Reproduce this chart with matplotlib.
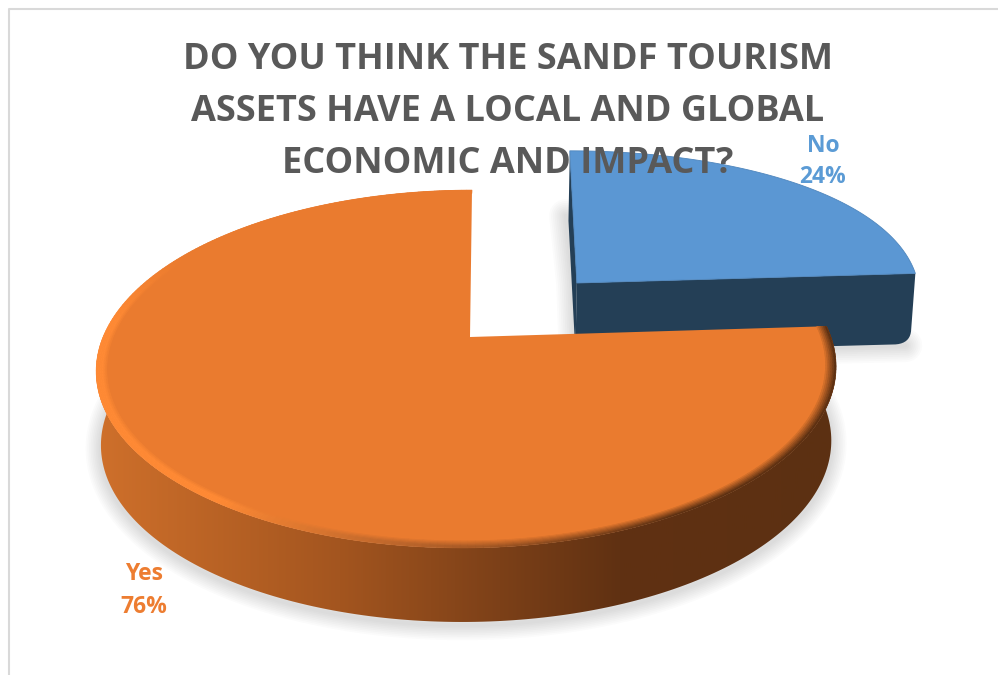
import numpy as np
import matplotlib
matplotlib.use('Agg')
import matplotlib.pyplot as plt
from matplotlib.colors import to_rgb
from matplotlib.patches import Polygon

title_lines = ['DO YOU THINK THE SANDF TOURISM',
               'ASSETS HAVE A LOCAL AND GLOBAL',
               'ECONOMIC AND IMPACT?']
categories = ['No', 'Yes']
shares = [24, 76]

ORANGE = '#ea7b2f'
BLUE_TOP = '#5b97d3'
BLUE_SIDE = '#243f56'
GREY = '#595959'

# perspective of the pie disc, in pixels
CX, CY = 467, 337
RX = 364
PERSP = 0.1788
SLOPE = -113
DEPTH = 74
DEPTH_SCALE = 0.987
SHEAR = 5

# the pulled out slice has its own horizontal scale
EXPLODE_X, EXPLODE_Y = 0.322, 0.33
BLUE_RX = 349
BLUE_PERSP_X = 0.07
BLUE_DEPTH = 70


def project(theta, r=1.0):
    # theta is measured clockwise from twelve o'clock
    x = r * np.sin(theta)
    y = r * np.cos(theta)
    w = 1 + PERSP * y
    return CX + RX * x / w + SHEAR * y, (SLOPE * y + CY) / w


def project_blue(theta, r=1.0):
    x = r * np.sin(theta) + EXPLODE_X
    y = r * np.cos(theta) + EXPLODE_Y
    return CX + BLUE_RX * x / (1 + BLUE_PERSP_X * y), (SLOPE * y + CY) / (1 + PERSP * y)


def drop(px, py, depth=DEPTH):
    return CX + (np.asarray(px) - CX) * DEPTH_SCALE, np.asarray(py) + depth


def lerp_color(x, xs, colors):
    rgb = np.array([to_rgb(c) for c in colors])
    return tuple(np.interp(x, xs, rgb[:, i]) for i in range(3))


def rim_color(deg):
    return lerp_color(deg, [86, 150, 185, 215, 275, 300, 360],
                      ['#5c3012', '#5c3012', '#b5622a', '#ff8a35', '#ff8a35', '#ea7b2f', '#ea7b2f'])


def soft_shadow(ax, px, py, width=22, steps=9):
    for i in range(steps):
        ax.plot(px, py, color='#808080', lw=width * (1 - i / steps), alpha=0.03,
                solid_capstyle='round', solid_joinstyle='round', zorder=1)


def rounded(p0, corner, p1, n=10):
    t = np.linspace(0, 1, n)[:, None]
    p0, corner, p1 = map(np.asarray, (p0, corner, p1))
    return (1 - t) ** 2 * p0 + 2 * t * (1 - t) * corner + t ** 2 * p1


fig = plt.figure(figsize=(9.98, 6.75), dpi=100)
ax = fig.add_axes([0, 0, 1, 1])
ax.axis('off')

# chart frame, only the left and top edges are in view
ax.plot([9, 9, 998], [675, 9, 9], color='#d9d9d9', lw=1.5, zorder=0)

blue_span = 2 * np.pi * shares[0] / sum(shares)

# exploded "No" slice
th = np.linspace(0, blue_span, 120)
bx, by = project_blue(th)
ax_, ay_ = project_blue(0.0, r=0.0)
bbx, bby = drop(bx, by, BLUE_DEPTH)
abx, aby = drop(ax_, ay_, BLUE_DEPTH)

soft_shadow(ax, [bx[0] - 4, ax_ - 4, abx, bbx[-1] - 4], [by[0] + 65, ay_, aby, bby[-1] + 2], width=24)
ax.fill([bx[0], ax_, abx, bbx[0]], [by[0], ay_, aby, bby[0]], color=BLUE_SIDE, lw=0, zorder=2)

corner = rounded((bbx[-1] + 1.5, bby[-1] - 12), (bbx[-1], bby[-1]), (bbx[-1] - 14, bby[-1] + 1))
front_x = [ax_, bx[-1]] + list(corner[:, 0]) + [abx]
front_y = [ay_, by[-1]] + list(corner[:, 1]) + [aby]
ax.fill(front_x, front_y, color=BLUE_SIDE, lw=0, zorder=2)
ax.fill(np.r_[ax_, bx], np.r_[ay_, by], color=BLUE_TOP, ec='#4f86bd', lw=0.6, zorder=3)

# "Yes" slice: shadow, outer wall, top face, bevel
th = np.linspace(blue_span, 2 * np.pi, 275)
ox, oy = project(th)
ox0, oy0 = project(0.0, r=0.0)
ox0 += 3
obx, oby = drop(ox, oy)

deg_all = np.degrees(th)
soft_shadow(ax, obx[deg_all < 285], oby[deg_all < 285] + 3)

# wall shading runs left to right, so it is an image clipped to the wall outline
front = deg_all < 272
grad_x = np.linspace(0, 998, 500)
stops_x = [95, 340, 500, 620, 835]
stops_c = ['#cf702b', '#a3551f', '#7c4018', '#603112', '#5c3012']
grad = np.array([[lerp_color(v, stops_x, stops_c) for v in grad_x]])
wall = ax.imshow(grad, extent=(0, 998, 675, 0), aspect='auto', zorder=4)
wall_poly = Polygon(np.c_[np.r_[ox[front], obx[front][::-1]], np.r_[oy[front], oby[front][::-1]]],
                    transform=ax.transData, fc='none', ec='none')
ax.add_patch(wall_poly)
wall.set_clip_path(wall_poly)

ax.fill(np.r_[ox0, ox], np.r_[oy0, oy], color=ORANGE, lw=0, zorder=5)

# rounded edge of the top face: dark towards the right, lit towards the left
rings = np.linspace(0.972, 1.0, 7)
for j in range(len(rings) - 1):
    t = (j + 1) / (len(rings) - 1)
    for i in range(len(th) - 1):
        deg = deg_all[i]
        c = rim_color(deg)
        blend = min(1, t * np.interp(deg, [175, 215], [1, 2.2]))
        c = tuple((1 - blend) * o + blend * v for o, v in zip(to_rgb(ORANGE), c))
        t2 = th[i:i + 2]
        x1, y1 = project(t2, r=rings[j])
        x2, y2 = project(t2, r=rings[j + 1])
        ax.fill(np.r_[x1, x2[::-1]], np.r_[y1, y2[::-1]], color=c, ec=c, lw=0.4, zorder=6)

# title and data labels sit on top of the pie
for line, base in zip(title_lines, [69, 121, 173]):
    ax.text(508, base, line, ha='center', va='baseline', color=GREY,
            family='Open Sans', weight='bold', fontsize=26, zorder=10)

label_pos = [(823, 152, 183), (144, 580, 613)]
label_colors = ['#5b9bd5', '#ed7d31']
for name, value, pos, col in zip(categories, shares, label_pos, label_colors):
    ax.text(pos[0], pos[1], name, ha='center', va='baseline', color=col,
            family='Open Sans', weight='bold', fontsize=16.5, zorder=10)
    ax.text(pos[0], pos[2], '{}%'.format(value), ha='center', va='baseline', color=col,
            family='Open Sans', weight='bold', fontsize=16.5, zorder=10)

ax.set_xlim(0, 998)
ax.set_ylim(675, 0)

fig.savefig('out.png', dpi=100, facecolor='white')
